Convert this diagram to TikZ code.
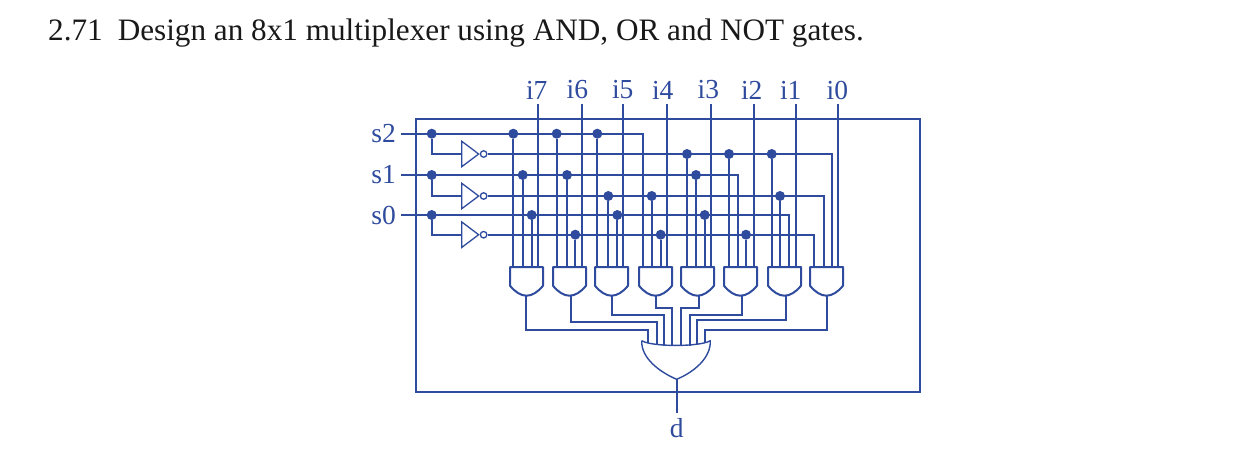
\documentclass[tikz,border=0pt]{standalone}
\usepackage{fontspec}
\setmainfont{Liberation Serif}
\usetikzlibrary{shapes.geometric, positioning}
\definecolor{myBlue}{RGB}{46, 75, 158}

\begin{document}
\begin{tikzpicture}[
            x=1pt, y=-1pt,
            % Styles
            wire/.style={draw=myBlue, line width=2.2pt},
            gate/.style={draw=myBlue, line width=2pt, line join=round},
            lbl/.style={text=myBlue, font=\fontsize{27.5}{30}\selectfont, inner xsep=5pt, inner ysep=5pt},
            dot/.style={circle, fill=myBlue, inner sep=0pt, minimum size=10pt},
            inv/.style={
                isosceles triangle, isosceles triangle apex angle=74, draw=myBlue, line width=1.3pt,
                inner sep=0pt, minimum height=17pt, anchor=lower side
            },
            bubble/.style={circle, draw=myBlue, line width=1.3pt, inner sep=0pt, minimum size=6.5pt},
            outerbox/.style={draw=myBlue, line width=2.2pt, inner sep=0pt, minimum width=504pt, minimum height=273pt}
        ]
            \useasboundingbox (0,0) rectangle (1247,456);

            % --- Nodes ---

            % 1. Title
            \node[anchor=west, inner sep=0pt, text=black!90, font=\fontsize{31.2}{34}\selectfont] (title) at (48,33)
                {2.71\hspace{15pt}Design an 8x1 multiplexer using AND, OR and NOT gates.};

            % 2. Outer box
            \node[outerbox] (box) at (668,255.5) {};

            % 3. Select inputs, their taps and inverters
            \foreach \n/\sy/\ny in {2/133.7/154, 1/175/196, 0/215/234.7} {
                \node[lbl, anchor=east] (s\n) at (401,\sy) {s\n};
                \node[dot] (a\n) at (431.7,\sy) {};
                \node[inv] (inv\n) at (461,\ny) {};
                \node[bubble, right=0pt of inv\n.apex] (n\n) {};
                \draw[wire] (a\n) |- (inv\n.lower side);
            }

            % 4. AND gates
            \foreach \n/\gx/\ox in {1/510/526, 2/553/571, 3/595/611.7, 4/639/655.7, 5/681/699, 6/724/742, 7/768/786, 8/810/826.7} {
                \draw[gate, shift={(\gx,267)}] (0,0) coordinate (g\n) -- (33,0) -- (33,18.7)
                    .. controls (28,25) and (22,28.7) .. (16.5,28.7)
                    .. controls (11,28.7) and (5,25) .. (0,18.7) -- cycle;
                \coordinate (o\n) at (\ox,295.7);
            }

            % 5. Data inputs
            \foreach \n/\lx/\wx/\g in {7/536.7/538/g1, 6/577.3/581.7/g2, 5/622.7/622.7/g3, 4/662.7/666.7/g4,
                                       3/708.3/710.7/g5, 2/751.7/754/g6, 1/790.7/795.7/g7, 0/837.3/837.7/g8} {
                \node[lbl] (i\n) at (\lx,90) {i\n};
                \draw[wire] (\wx,104) coordinate (w\n) -- (w\n |- \g);
            }

            % 6. OR gate and output
            \draw[gate, line width=1.4pt] (641.7,340.7) coordinate (orleft)
                .. controls (652,347) and (700,347) .. (710.3,340.7) coordinate (orright)
                .. controls (711,358) and (694,372) .. (676.7,379.3) coordinate (orout)
                .. controls (659.4,372) and (641,358) .. (orleft);
            \node[lbl] (d) at (676.7,428) {d};

            % --- Arrows ---

            % Select lines that end in a corner
            \foreach \x/\src/\g in {642.7/s2/g4, 737.7/s1/g6, 789/s0/g7, 814/n0/g8, 824/n1/g8, 832/n2/g8} {
                \draw[wire] (\src) -- (\x,0 |- \src) -- (\x,0 |- \g);
            }

            % Taps with a dot
            \foreach \t/\x/\src/\g in {1a/513.3/s2/g1, 1b/522.7/s1/g1, 1c/531.7/s0/g1,
                                       2a/556.7/s2/g2, 2b/567/s1/g2, 2c/575.3/n0/g2,
                                       3a/597.3/s2/g3, 3b/608.3/n1/g3, 3c/617.3/s0/g3,
                                       4b/651.7/n1/g4, 4c/660.7/n0/g4,
                                       5a/687/n2/g5, 5b/696/s1/g5, 5c/704.7/s0/g5,
                                       6a/729/n2/g6, 6c/746/n0/g6,
                                       7a/771.7/n2/g7, 7b/780/n1/g7} {
                \node[dot] (t\t) at (\x,0 |- \src) {};
                \draw[wire] (t\t) -- (t\t |- \g);
            }

            % AND outputs into the OR gate
            \foreach \n/\x/\y/\e in {1/648/330/343, 2/657/322/345, 3/664.3/315/345.5, 4/672/307.7/346,
                                     5/680.7/307.7/346, 6/689.7/315/345.5, 7/696.7/320/345, 8/704.7/330/343} {
                \coordinate (or\n) at (\x,\e);
                \draw[wire] (o\n) |- (\x,\y) -- (or\n);
            }

            \draw[wire] (orout) -- (orout |- d.north);

        \end{tikzpicture}
\end{document}
